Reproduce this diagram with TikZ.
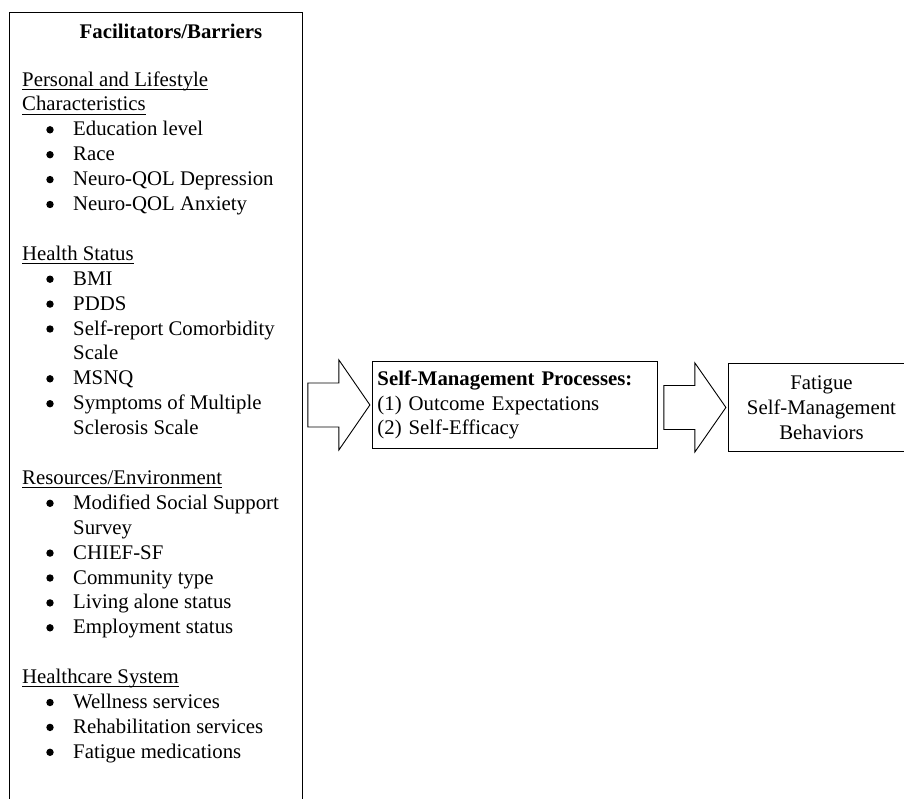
\documentclass[tikz,border=0pt]{standalone}
\usepackage{fontspec}
\setmainfont{Liberation Serif}
\usetikzlibrary{positioning}

\begin{document}
\begin{tikzpicture}[x=1pt,y=-1pt,
    every node/.style={font=\fontsize{20.8}{24.9}\selectfont},
    box/.style={draw, line width=0.9pt, inner sep=0pt},
    head/.style={anchor=base west, inner sep=0pt},
    item/.style={anchor=base west, inner sep=0pt},
    cont/.style={anchor=base west, inner sep=0pt},
    blockarrow/.style={draw, line width=0.9pt, line join=miter},
    uline/.style={line width=0.8pt}]
    \clip (0,0) rectangle (904,798);

    % left column
    \node[box, anchor=north west, minimum width=293pt, minimum height=820pt] (fb) at (9,12) {};
    \node[anchor=base, inner sep=0pt, font=\fontsize{20.8}{24.9}\selectfont\bfseries] (title) at (171,38) {Facilitators/Barriers};

    \node[head] (p1) at (22,86) {Personal and Lifestyle};
    \node[head] (p2) at (22,86+24.9*1) {Characteristics};
    \node[item] (e1) at (73,86+24.9*2) {Education level};
    \node[item] (e2) at (73,86+24.9*3) {Race};
    \node[item] (e3) at (73,86+24.9*4) {Neuro-QOL Depression};
    \node[item] (e4) at (73,86+24.9*5) {Neuro-QOL Anxiety};

    \node[head] (hs) at (22,86+24.9*7) {Health Status};
    \node[item] (s1) at (73,86+24.9*8) {BMI};
    \node[item] (s2) at (73,86+24.9*9) {PDDS};
    \node[item] (s3) at (73,86+24.9*10) {Self-report Comorbidity};
    \node[cont] (s3b) at (73,86+24.9*11) {Scale};
    \node[item] (s4) at (73,86+24.9*12) {MSNQ};
    \node[item] (s5) at (73,86+24.9*13) {Symptoms of Multiple};
    \node[cont] (s5b) at (73,86+24.9*14) {Sclerosis Scale};

    \node[head] (re) at (22,86+24.9*16) {Resources/Environment};
    \node[item] (r1) at (73,86+24.9*17) {Modified Social Support};
    \node[cont] (r1b) at (73,86+24.9*18) {Survey};
    \node[item] (r2) at (73,86+24.9*19) {CHIEF-SF};
    \node[item] (r3) at (73,86+24.9*20) {Community type};
    \node[item] (r4) at (73,86+24.9*21) {Living alone status};
    \node[item] (r5) at (73,86+24.9*22) {Employment status};

    \node[head] (hc) at (22,86+24.9*24) {Healthcare System};
    \node[item] (c1) at (73,86+24.9*25) {Wellness services};
    \node[item] (c2) at (73,86+24.9*26) {Rehabilitation services};
    \node[item] (c3) at (73,86+24.9*27) {Fatigue medications};

    % underlines and bullets
    \foreach \h in {p1,p2,hs,re,hc}
      \draw[uline] ([yshift=-3pt]\h.base west) -- ([yshift=-3pt]\h.base east);
    \foreach \i in {e1,e2,e3,e4,s1,s2,s3,s4,s5,r1,r2,r3,r4,r5,c1,c2,c3}
      \fill ([xshift=-23pt,yshift=6pt]\i.base west) circle (3.7pt);

    % middle and right boxes
    \node[box, anchor=north west, minimum width=285pt, minimum height=87pt,
      text width=275pt, align=left] (smp) at (372,361)
      {\textbf{Self-Management Processes:}\\(1) Outcome Expectations\\(2) Self-Efficacy};
    \node[box, anchor=north west, minimum width=186pt, minimum height=88pt,
      align=center] (fsm) at (728,363) {Fatigue\\Self-Management\\Behaviors};

    % block arrows
    \coordinate (a1) at ([xshift=5pt]fb.east |- smp.west);
    \draw[blockarrow] (a1) ++(0,-22) -- ++(31,0) -- ++(0,-23) -- ++(31,45) -- ++(-31,45) -- ++(0,-23) -- ++(-31,0) -- cycle;
    \coordinate (a2) at ([xshift=6pt]smp.east |- fsm.west);
    \draw[blockarrow] (a2) ++(0,-22) -- ++(31,0) -- ++(0,-22.5) -- ++(31,44.5) -- ++(-31,44.5) -- ++(0,-22.5) -- ++(-31,0) -- cycle;
\end{tikzpicture}
\end{document}
